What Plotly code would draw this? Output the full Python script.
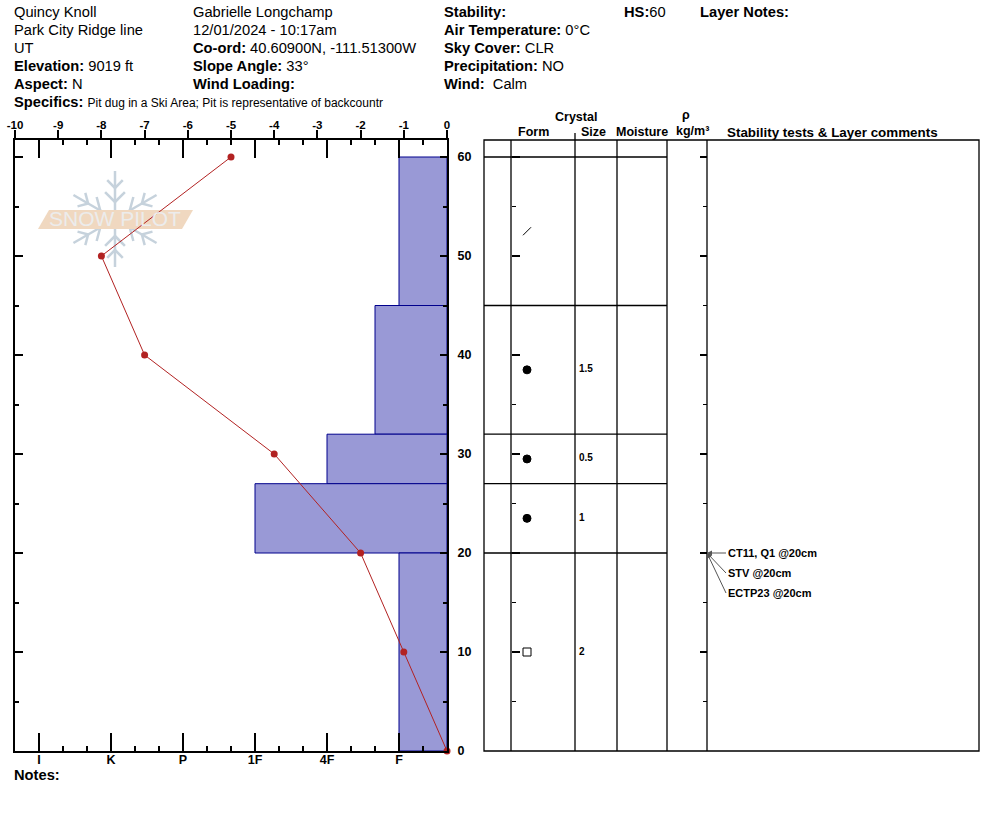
import math
import plotly.graph_objects as go

W, H = 994, 840

# --- pit data ---------------------------------------------------------------
layer_top = [60, 45, 32, 27, 20]
layer_bottom = [45, 32, 27, 20, 0]
layer_hardness = [2, 3, 5, 8, 2]          # F, F+, 4F, 1F, F  (scale: F=2 ... I=17)
layer_form = ["line-ne", "circle", "circle", "circle", "square-open"]
layer_size = ["", "1.5", "0.5", "1", "2"]

temp_depth = [60, 50, 40, 30, 20, 10, 0]
temp_value = [-5, -8, -7, -4, -2, -1, 0]

hardness_pos = [17, 14, 11, 8, 5, 2]
hardness_lbl = ["I", "K", "P", "1F", "4F", "F"]

depth_ticks = [0, 10, 20, 30, 40, 50, 60]
temp_ticks = [-10, -9, -8, -7, -6, -5, -4, -3, -2, -1, 0]

test_depth = 20
test_names = ["CT11, Q1 @20cm", "STV @20cm", "ECTP23 @20cm"]

header_col1 = ["Quincy Knoll", "Park City Ridge line", "UT",
               "<b>Elevation:</b> 9019 ft", "<b>Aspect:</b> N"]
header_col2 = ["Gabrielle Longchamp", "12/01/2024 - 10:17am",
               "<b>Co-ord:</b> 40.60900N, -111.51300W",
               "<b>Slope Angle:</b> 33°", "<b>Wind Loading:</b>"]
header_col3 = ["<b>Stability:</b>", "<b>Air Temperature:</b> 0°C",
               "<b>Sky Cover:</b> CLR", "<b>Precipitation:</b> NO",
               "<b>Wind:</b>  Calm"]
specifics = "Pit dug in a Ski Area; Pit is representative of backcountr"
hs_total = 60


def px(x):
    return x / W


def py(y):
    return 1 - y / H


FONT = "Liberation Sans, Arial, sans-serif"
Y_TOP = (751 - 140) / 9.9          # depth at top of the grid
box_dom = [px(15), px(447)]
y_dom = [py(751), py(140)]

fig = go.Figure()

# hardness bars
mids = [(t + b) / 2 for t, b in zip(layer_top, layer_bottom)]
thick = [t - b for t, b in zip(layer_top, layer_bottom)]
fig.add_trace(go.Bar(
    x=layer_hardness, y=mids, width=thick, orientation="h",
    marker=dict(color="rgb(153,153,214)", line=dict(color="rgb(0,0,140)", width=1)),
    xaxis="x", yaxis="y", hoverinfo="skip", showlegend=False,
))

# empty helpers so the extra tick axes get drawn
for xa, ya in [("x3", "y"), ("x", "y2"), ("x", "y3"), ("x", "y4")]:
    fig.add_trace(go.Scatter(x=layer_hardness[:1], y=layer_top[:1], mode="markers",
                             marker=dict(opacity=0), xaxis=xa, yaxis=ya,
                             hoverinfo="skip", showlegend=False))

# temperature profile
fig.add_trace(go.Scatter(
    x=temp_value, y=temp_depth, mode="lines+markers",
    line=dict(color="#b22222", width=1),
    marker=dict(color="#b22222", size=7),
    xaxis="x2", yaxis="y", cliponaxis=False, showlegend=False,
))

# crystal forms and sizes in the table
form_x = [527] * len(mids)
fig.add_trace(go.Scatter(
    x=form_x, y=mids, mode="markers",
    marker=dict(symbol=layer_form, size=8, color="black",
                line=dict(color="black", width=1)),
    xaxis="x4", yaxis="y", showlegend=False,
))
fig.add_trace(go.Scatter(
    x=[579] * len(mids), y=mids, mode="text",
    text=["<b>%s</b>" % s for s in layer_size], textposition="middle right",
    textfont=dict(family=FONT, size=10, color="black"),
    xaxis="x4", yaxis="y", showlegend=False, cliponaxis=False,
))

shapes = []
line_k = dict(color="black", width=1.3)

# table frame, columns and layer lines
shapes.append(dict(type="rect", xref="paper", yref="y domain",
                   x0=px(484), x1=px(979), y0=0, y1=1, line=line_k, layer="above"))
for cx in [511, 575, 617, 667, 707]:
    shapes.append(dict(type="line", xref="paper", yref="y domain",
                       x0=px(cx), x1=px(cx), y0=0, y1=1, line=line_k))
shapes.append(dict(type="line", xref="paper", yref="paper",
                   x0=px(575), x1=px(575), y0=py(140), y1=py(133), line=line_k))
for d in layer_top:
    shapes.append(dict(type="line", xref="paper", yref="y",
                       x0=px(484), x1=px(667), y0=d, y1=d, line=line_k))

# snowpilot watermark
cx0, cy0, arm = 115, 219, 48
flake = dict(color="rgb(198,210,220)", width=2.5)
for ang in [90, 30, 150, 210, 270, 330]:
    a = math.radians(ang)
    dx, dy = math.cos(a), -math.sin(a)
    shapes.append(dict(type="line", xref="paper", yref="paper", layer="below",
                       x0=px(cx0), y0=py(cy0), x1=px(cx0 + arm * dx), y1=py(cy0 + arm * dy),
                       line=flake))
    for dist, blen in [(17, 14), (31, 11)]:
        bx, by = cx0 + dist * dx, cy0 + dist * dy
        for side in [-1, 1]:
            b = a + side * math.radians(45)
            shapes.append(dict(type="line", xref="paper", yref="paper", layer="below",
                               x0=px(bx), y0=py(by),
                               x1=px(bx + blen * math.cos(b)), y1=py(by - blen * math.sin(b)),
                               line=flake))
band = [(38, 229), (49, 210), (193, 210), (182, 229)]
shapes.append(dict(type="path", xref="paper", yref="paper", layer="below",
                   path="M " + " L ".join("%f,%f" % (px(x), py(y)) for x, y in band) + " Z",
                   fillcolor="rgb(240,216,192)", line=dict(width=0)))

annotations = []


def note(x, y, text, size=14.7, anchor="left", color="black"):
    annotations.append(dict(x=px(x), y=py(y), xref="paper", yref="paper",
                            text=text, showarrow=False, xanchor=anchor, yanchor="middle",
                            font=dict(family=FONT, size=size, color=color)))


row_y = [12, 30, 48, 66, 84]
for ry, a, b, c in zip(row_y, header_col1, header_col2, header_col3):
    note(12, ry, a)
    note(191, ry, b)
    note(442, ry, c)
note(622, 12, "<b>HS:</b>%d" % hs_total)
note(698, 12, "<b>Layer Notes:</b>")
annotations.append(dict(x=px(12), y=py(102), xref="paper", yref="paper", showarrow=False,
                        xanchor="left", yanchor="middle",
                        text="<b>Specifics:</b> <span style='font-size:12px'>%s</span>" % specifics,
                        font=dict(family=FONT, size=14.7, color="black")))
note(12, 775, "<b>Notes:</b>")
note(115, 219, "SNOW PILOT", size=21, anchor="center", color="rgb(236,236,236)")

for x, y, t, s in [(576, 117, "Crystal", 12.5), (533, 132, "Form", 12.5),
                   (593, 132, "Size", 12.5), (642, 132, "Moisture", 12.5),
                   (686, 115, "ρ", 12.5), (692, 131, "kg/m³", 12.5),
                   (832, 132, "Stability tests &amp; Layer comments", 13.4)]:
    note(x, y, "<b>%s</b>" % t, size=s, anchor="center")

# stability tests pointing to their depth
for i, t in enumerate(test_names):
    annotations.append(dict(x=px(707), y=test_depth, xref="paper", yref="y",
                            ax=19, ay=20 * i, text="<b>%s</b>" % t, xanchor="left",
                            showarrow=True, arrowhead=2, arrowsize=1, arrowwidth=1,
                            arrowcolor="#555555",
                            font=dict(family=FONT, size=11, color="black")))

axis_common = dict(showgrid=False, zeroline=False, linecolor="black", linewidth=2,
                   tickcolor="black", tickwidth=1.5, automargin=False)

fig.update_layout(
    width=W, height=H, margin=dict(l=0, r=0, t=0, b=0, autoexpand=False),
    paper_bgcolor="white", plot_bgcolor="rgba(0,0,0,0)",
    showlegend=False, shapes=shapes, annotations=annotations,
    font=dict(family=FONT, color="black"),
    xaxis=dict(domain=box_dom, range=[18, 0], anchor="y", side="bottom", showline=True,
               tickvals=hardness_pos, ticktext=["<b>%s</b>" % s for s in hardness_lbl],
               ticks="inside", ticklen=18, tickfont=dict(size=12.5), ticklabelstandoff=-4,
               minor=dict(dtick=1, tick0=0, ticks="inside", ticklen=5,
                          tickcolor="black", tickwidth=1.5),
               **axis_common),
    xaxis3=dict(overlaying="x", matches="x", anchor="y", side="top", showline=False,
                tickvals=hardness_pos, showticklabels=False,
                ticks="inside", ticklen=18,
                minor=dict(dtick=1, tick0=0, ticks="inside", ticklen=5,
                           tickcolor="black", tickwidth=1.5),
                **axis_common),
    xaxis2=dict(overlaying="x", anchor="y", side="top", range=[-10, 0], showline=True,
                tickvals=temp_ticks, ticktext=["<b>%d</b>" % v for v in temp_ticks],
                ticks="outside", ticklen=8, tickfont=dict(size=11.5), ticklabelstandoff=-4,
                **axis_common),
    xaxis4=dict(domain=[0, 1], range=[0, W], anchor="y", visible=False, fixedrange=True,
                automargin=False),
    yaxis=dict(domain=y_dom, range=[0, Y_TOP], anchor="x", side="left", showline=True,
               tickvals=depth_ticks, showticklabels=False, ticks="inside", ticklen=8,
               minor=dict(dtick=5, tick0=0, ticks="inside", ticklen=4,
                          tickcolor="black", tickwidth=1.5),
               **axis_common),
    yaxis2=dict(overlaying="y", matches="y", anchor="x", side="right", showline=True,
                tickvals=depth_ticks, ticktext=["<b>%d</b>" % v for v in depth_ticks],
                ticks="inside", ticklen=7, tickfont=dict(size=12.5), ticklabelstandoff=6,
                minor=dict(dtick=5, tick0=0, ticks="inside", ticklen=4,
                           tickcolor="black", tickwidth=1.5),
                **axis_common),
    yaxis3=dict(overlaying="y", matches="y", anchor="free", position=px(511), side="left",
                showline=False, tickvals=depth_ticks, showticklabels=False,
                ticks="inside", ticklen=8,
                minor=dict(dtick=5, tick0=0, ticks="inside", ticklen=4,
                           tickcolor="black", tickwidth=1.3),
                **axis_common),
    yaxis4=dict(overlaying="y", matches="y", anchor="free", position=px(707), side="right",
                showline=False, tickvals=depth_ticks, showticklabels=False,
                ticks="inside", ticklen=7,
                minor=dict(dtick=5, tick0=0, ticks="inside", ticklen=4,
                           tickcolor="black", tickwidth=1.3),
                **axis_common),
)

fig.write_html("out.html", config={"displayModeBar": False},
               post_script="document.body.style.margin='0px';")
